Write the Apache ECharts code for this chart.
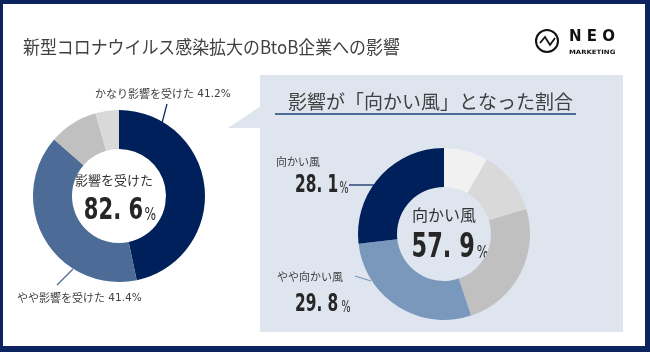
<!DOCTYPE html>
<html>
<head>
<meta charset="utf-8">
<script src="https://cdn.jsdelivr.net/npm/echarts@6/dist/echarts.min.js"></script>
<style>
  html, body { margin: 0; padding: 0; background: #0b2460; }
  #chart { width: 650px; height: 352px; }
</style>
</head>
<body>
<div id="chart"></div>
<script>
// 左: 影響を受けた (slice sizes read from the drawn donut)
const leftNames = ['かなり影響を受けた', 'やや影響を受けた', 'あまり影響を受けていない', '影響を受けていない'];
const leftSlices = [46.7, 39.7, 9.2, 4.4];
const leftColors = ['#00205b', '#4c6b96', '#c0c0c0', '#d9d9d9'];
const leftLabelPct = [41.2, 41.4];
const leftTotal = 82.6;

// 右: 向かい風 (clockwise from 12 o'clock)
const rightNames = ['追い風', 'やや追い風', '影響なし', 'やや向かい風', '向かい風'];
const rightSlices = [8.3, 12.0, 24.6, 28.3, 26.8];
const rightColors = ['#f1f1f1', '#d9d9d9', '#c0c0c0', '#7a97bc', '#00205b'];
const rightLabelPct = [28.1, 29.8]; // 向かい風, やや向かい風
const rightTotal = 57.9;

const jp = '"Noto Sans CJK JP", "Noto Sans", sans-serif';
const num = '"DejaVu Sans", sans-serif';
const fmt = v => v.toFixed(1).replace('.', '. ');

const chart = echarts.init(document.getElementById('chart'));

function donut(center, names, values, colors) {
  return {
    type: 'pie',
    center: center,
    radius: [47, 86],
    startAngle: 90,
    clockwise: true,
    silent: true,
    label: { show: false },
    labelLine: { show: false },
    itemStyle: { borderWidth: 0 },
    data: names.map((n, i) => ({ name: n, value: values[i], itemStyle: { color: colors[i] } }))
  };
}

// condensed-looking big number: text squeezed horizontally
function bigNum(v, x, y, size, pctSize, align, sx, gap) {
  return {
    type: 'text', x: x, y: y, scaleX: sx,
    style: {
      x: 0, y: 0, align: align, verticalAlign: 'middle',
      text: '{a|' + fmt(v) + '}{b|%}',
      rich: {
        a: { font: 'bold ' + size + 'px ' + num, fill: '#262626' },
        b: { font: pctSize + 'px ' + num, fill: '#262626', padding: [Math.round(size * 0.3), 0, 0, gap] }
      }
    }
  };
}

function smallLabel(name, v, x, y) {
  return {
    type: 'text', x: x, y: y,
    style: {
      x: 0, y: 0, verticalAlign: 'middle',
      text: '{a|' + name + '} {b|' + v + '%}',
      rich: { a: { font: '11px ' + jp, fill: '#404040' }, b: { font: '10.5px ' + num, fill: '#404040' } }
    }
  };
}

chart.setOption({
  backgroundColor: '#0b2460',
  animation: false,
  graphic: [
    // white card + right panel
    { type: 'rect', z: -10, shape: { x: 3, y: 4, width: 642, height: 342 }, style: { fill: '#ffffff' } },
    { type: 'rect', z: -9, shape: { x: 260, y: 75, width: 363, height: 257 }, style: { fill: '#dee5ef' } },
    { type: 'polygon', z: -9, shape: { points: [[228, 128], [261, 106], [261, 128]] }, style: { fill: '#dee5ef' } },
    // title
    { type: 'text', x: 23, y: 47, scaleX: 0.94,
      style: { text: '新型コロナウイルス感染拡大のBtoB企業への影響', x: 0, y: 0, fill: '#404040',
        font: '18px ' + jp, verticalAlign: 'middle' } },
    // logo
    { type: 'circle', shape: { cx: 547, cy: 41, r: 11 }, style: { fill: 'none', stroke: '#111', lineWidth: 2 } },
    { type: 'polyline', shape: { points: [[540, 43], [545, 37], [550, 45], [555, 38]] }, style: { fill: 'none', stroke: '#111', lineWidth: 1.8 } },
    { type: 'text', style: { text: 'N E O', x: 569, y: 37, fill: '#111', font: 'bold 15px ' + num, verticalAlign: 'middle' } },
    { type: 'text', x: 569, y: 52, scaleX: 1.15,
      style: { text: 'MARKETING', x: 0, y: 0, fill: '#111', font: 'bold 6px ' + num, verticalAlign: 'middle' } },
    // panel heading
    { type: 'text', style: { text: '影響が「向かい風」となった割合', x: 288, y: 102, fill: '#404040',
        font: '19px ' + jp, verticalAlign: 'middle' } },
    { type: 'line', shape: { x1: 275, y1: 114, x2: 576, y2: 114 }, style: { stroke: '#4c6b96', lineWidth: 2 } },

    // left labels
    smallLabel(leftNames[0], leftLabelPct[0], 95, 94),
    { type: 'line', shape: { x1: 162, y1: 123, x2: 167, y2: 104 }, style: { stroke: '#00205b', lineWidth: 1.2 } },
    smallLabel(leftNames[1], leftLabelPct[1], 17, 298),
    { type: 'line', shape: { x1: 57, y1: 285, x2: 73, y2: 269 }, style: { stroke: '#4c6b96', lineWidth: 1.2 } },
    // left centre
    { type: 'text', style: { text: '影響を受けた', x: 114, y: 180, align: 'center', verticalAlign: 'middle',
        font: '13px ' + jp, fill: '#333' } },
    bigNum(leftTotal, 120, 211, 31, 18, 'center', 0.68, 2),

    // right labels
    { type: 'text', style: { text: rightNames[4], x: 276, y: 162, font: '11px ' + jp, fill: '#404040', verticalAlign: 'middle' } },
    bigNum(rightLabelPct[0], 295, 186, 24, 15, 'left', 0.64, 2),
    { type: 'line', shape: { x1: 349, y1: 185, x2: 374, y2: 185 }, style: { stroke: '#00205b', lineWidth: 1.2 } },
    { type: 'text', style: { text: rightNames[3], x: 277, y: 277, font: '11px ' + jp, fill: '#404040', verticalAlign: 'middle' } },
    bigNum(rightLabelPct[1], 295, 305, 24, 15, 'left', 0.64, 5),
    { type: 'line', shape: { x1: 355, y1: 276, x2: 371, y2: 281 }, style: { stroke: '#7a97bc', lineWidth: 1.2 } },
    // right centre
    { type: 'text', style: { text: rightNames[4], x: 444, y: 215, align: 'center', verticalAlign: 'middle',
        font: '16px ' + jp, fill: '#333' } },
    bigNum(rightTotal, 450, 248, 33, 18, 'center', 0.68, 3)
  ],
  series: [
    donut([119, 196], leftNames, leftSlices, leftColors),
    donut([444, 234], rightNames, rightSlices, rightColors)
  ]
});
</script>
</body>
</html>
